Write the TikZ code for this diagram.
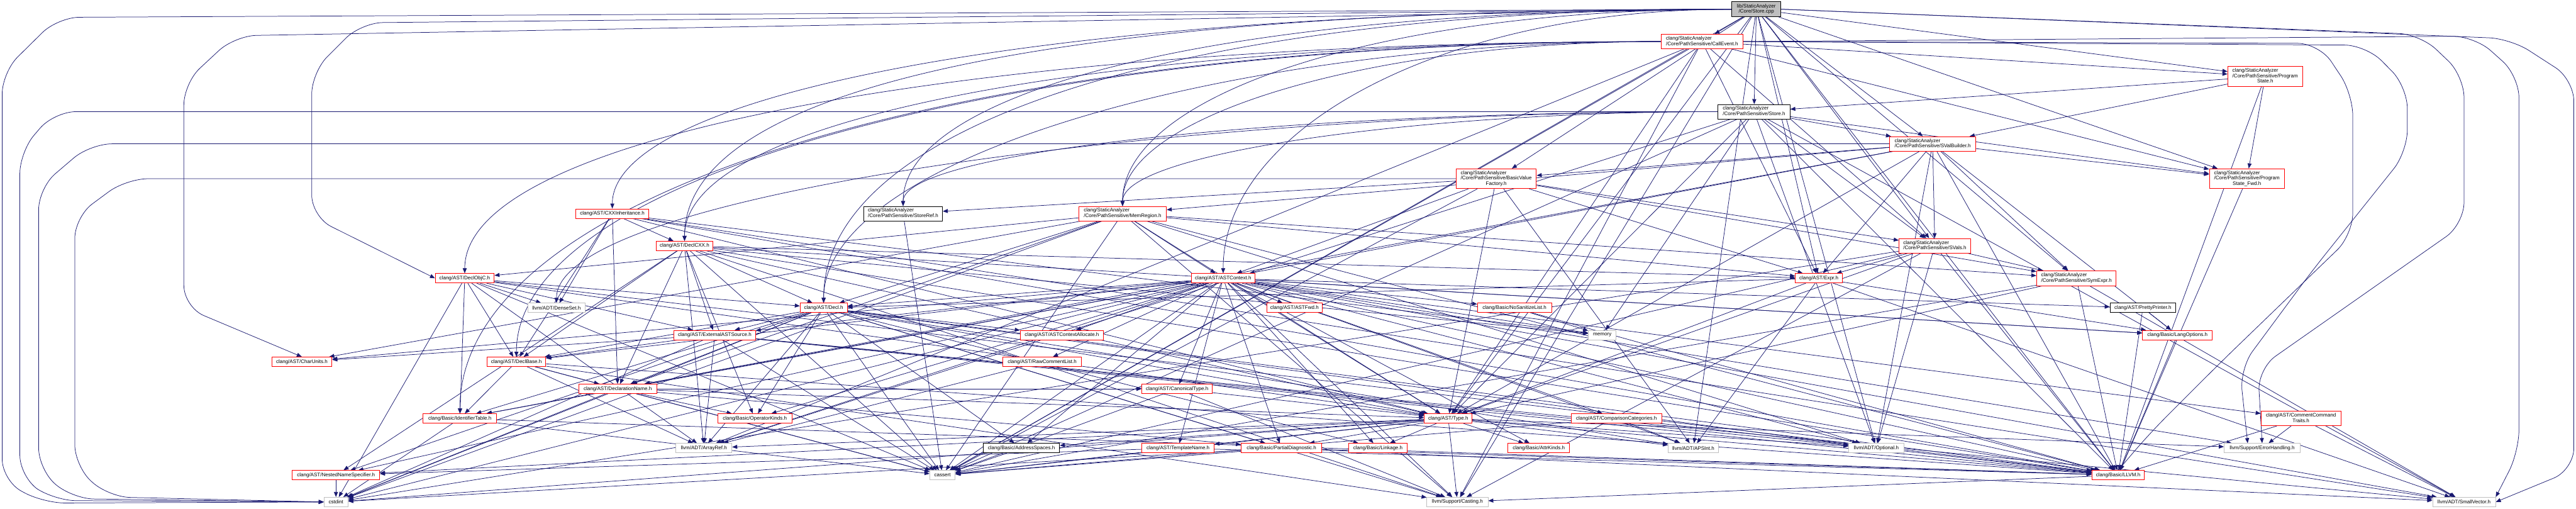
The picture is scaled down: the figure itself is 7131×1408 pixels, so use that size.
\documentclass[tikz,border=0pt]{standalone}
\usepackage{fontspec}
\setmainfont{Liberation Sans}
\usetikzlibrary{arrows.meta}
\pgfdeclarelayer{background}
\pgfsetlayers{background,main}
\definecolor{edgeblue}{RGB}{25,25,112}
\definecolor{trunc}{RGB}{255,0,0}
\definecolor{sysgray}{RGB}{191,191,191}
\newcommand{\hdrtext}[2]{\begin{tabular}{@{}l@{}}#1\\\multicolumn{1}{@{}c@{}}{#2}\end{tabular}}

\begin{document}
\begin{tikzpicture}[x=1pt, y=1pt, font=\fontsize{14}{15}\selectfont,
  file/.style={draw, fill=white, line width=1.5pt, inner sep=2pt, minimum height=26pt},
  hdr/.style={file, draw=trunc},
  sys/.style={file, draw=sysgray},
  full/.style={file, draw=black},
  root/.style={file, draw=black, fill=sysgray},
  inc/.style={draw=edgeblue, line width=1.3pt, -{Triangle[length=14pt, width=11pt]}}]
	\useasboundingbox (0,0) rectangle (7131,-1408);
	% headers of the static analyzer
	\node[root, minimum width=136pt, minimum height=41pt] (cpp) at (4862,-25.5) {\hdrtext{lib/StaticAnalyzer}{/Core/Store.cpp}};
	\node[hdr, minimum width=227pt, minimum height=40pt] (callev) at (4711.5,-115) {\hdrtext{clang/StaticAnalyzer}{/Core/PathSensitive/CallEvent.h}};
	\node[hdr, minimum width=207pt, minimum height=55pt] (pstate) at (6270.5,-211.5) {\hdrtext{clang/StaticAnalyzer\\/Core/PathSensitive/Program}{State.h}};
	\node[full, minimum width=199pt, minimum height=40pt] (storeh) at (4855.5,-309) {\hdrtext{clang/StaticAnalyzer}{/Core/PathSensitive/Store.h}};
	\node[hdr, minimum width=238pt, minimum height=40pt] (svb) at (5350,-398) {\hdrtext{clang/StaticAnalyzer}{/Core/PathSensitive/SValBuilder.h}};
	\node[hdr, minimum width=222pt, minimum height=55pt] (bvf) at (4142,-494.5) {\hdrtext{clang/StaticAnalyzer\\/Core/PathSensitive/BasicValue}{Factory.h}};
	\node[hdr, minimum width=208pt, minimum height=55pt] (psfwd) at (6220,-494.5) {\hdrtext{clang/StaticAnalyzer\\/Core/PathSensitive/Program}{State\_Fwd.h}};
	\node[full, minimum width=218pt, minimum height=40pt] (sref) at (2500,-591) {\hdrtext{clang/StaticAnalyzer}{/Core/PathSensitive/StoreRef.h}};
	\node[hdr, minimum width=243pt, minimum height=40pt] (memreg) at (3107.5,-591) {\hdrtext{clang/StaticAnalyzer}{/Core/PathSensitive/MemRegion.h}};
	\node[hdr, minimum width=198pt, minimum height=40pt] (svals) at (5356,-680) {\hdrtext{clang/StaticAnalyzer}{/Core/PathSensitive/SVals.h}};
	\node[hdr, minimum width=220pt, minimum height=41pt] (symexpr) at (5748,-770) {\hdrtext{clang/StaticAnalyzer}{/Core/PathSensitive/SymExpr.h}};
	% AST and Basic headers
	\node[hdr, minimum width=202pt] (cxxinh) at (1695,-591) {clang/AST/CXXInheritance.h};
	\node[hdr, minimum width=158pt] (declcxx) at (1895,-680.5) {clang/AST/DeclCXX.h};
	\node[hdr, minimum width=163pt] (declobjc) at (1286.5,-770) {clang/AST/DeclObjC.h};
	\node[hdr, minimum width=176pt] (astctx) at (3386,-770) {clang/AST/ASTContext.h};
	\node[hdr, minimum width=130pt] (expr) at (5035,-770) {clang/AST/Expr.h};
	\node[sys, minimum width=159pt] (denseset) at (1540.5,-852) {llvm/ADT/DenseSet.h};
	\node[hdr, minimum width=130pt] (decl) at (2280,-852) {clang/AST/Decl.h};
	\node[hdr, minimum width=153pt] (astfwd) at (3583.5,-852) {clang/AST/ASTFwd.h};
	\node[hdr, minimum width=205pt] (nosan) at (4192.5,-852) {clang/Basic/NoSanitizeList.h};
	\node[full, minimum width=182pt] (pretty) at (5932,-852) {clang/AST/PrettyPrinter.h};
	\node[hdr, minimum width=225pt] (extsrc) at (1978.5,-927) {clang/AST/ExternalASTSource.h};
	\node[hdr, minimum width=231pt] (ctxalloc) at (2939.5,-927) {clang/AST/ASTContextAllocate.h};
	\node[sys, minimum width=77pt] (memory) at (4435.5,-927) {memory};
	\node[hdr, minimum width=193pt] (langopt) at (6027.5,-927) {clang/Basic/LangOptions.h};
	\node[hdr, minimum width=167pt] (charunits) at (835.5,-1001) {clang/AST/CharUnits.h};
	\node[hdr, minimum width=163pt] (declbase) at (1429.5,-1001) {clang/AST/DeclBase.h};
	\node[hdr, minimum width=218pt] (rawcmt) at (2885,-1001) {clang/AST/RawCommentList.h};
	\node[hdr, minimum width=216pt] (dname) at (1710,-1076) {clang/AST/DeclarationName.h};
	\node[hdr, minimum width=195pt] (canon) at (3258.5,-1076) {clang/AST/CanonicalType.h};
	\node[hdr, minimum width=204pt] (idtab) at (1273,-1158) {clang/Basic/IdentifierTable.h};
	\node[hdr, minimum width=205pt] (opkinds) at (2089.5,-1158) {clang/Basic/OperatorKinds.h};
	\node[hdr, minimum width=132pt] (typeh) at (4009,-1158) {clang/AST/Type.h};
	\node[hdr, minimum width=251pt] (cmpcat) at (4474.5,-1158) {clang/AST/ComparisonCategories.h};
	\node[hdr, minimum width=221pt, minimum height=40pt] (cmttraits) at (6369.5,-1158) {\hdrtext{clang/AST/CommentCommand}{Traits.h}};
	\node[sys, minimum width=155pt] (arrayref) at (1948.5,-1240) {llvm/ADT/ArrayRef.h};
	\node[full, minimum width=211pt] (addrsp) at (2827.5,-1240) {clang/Basic/AddressSpaces.h};
	\node[hdr, minimum width=200pt] (tname) at (3261,-1240) {clang/AST/TemplateName.h};
	\node[hdr, minimum width=223pt] (pdiag) at (3547.5,-1240) {clang/Basic/PartialDiagnostic.h};
	\node[hdr, minimum width=163pt] (linkage) at (3814.5,-1240) {clang/Basic/Linkage.h};
	\node[hdr, minimum width=171pt] (attrk) at (4259.5,-1240) {clang/Basic/AttrKinds.h};
	\node[sys, minimum width=139pt] (apsint) at (4687.5,-1240) {llvm/ADT/APSInt.h};
	\node[sys, minimum width=152pt] (optional) at (5194,-1240) {llvm/ADT/Optional.h};
	\node[sys, minimum width=210pt] (errh) at (6262,-1240) {llvm/Support/ErrorHandling.h};
	\node[hdr, minimum width=242pt] (nns) at (930,-1315) {clang/AST/NestedNameSpecifier.h};
	\node[sys, minimum width=70pt] (cassert) at (2609,-1315) {cassert};
	\node[hdr, minimum width=145pt] (llvm) at (5863.5,-1315) {clang/Basic/LLVM.h};
	\node[sys, minimum width=66pt] (cstdint) at (930,-1389) {cstdint};
	\node[sys, minimum width=169pt] (casting) at (4034.5,-1389) {llvm/Support/Casting.h};
	\node[sys, minimum width=174pt] (smallvec) at (6821,-1389) {llvm/ADT/SmallVector.h};

	\begin{pgfonlayer}{background}
	% Store.cpp
	\draw[inc] (cpp) -- (storeh);
	\draw[inc] (cpp.west) .. controls ([xshift=-800pt]cpp.west) and ([yshift=400pt]astctx.north) .. (astctx.north);
	\draw[inc] (cpp.west) .. controls ([xshift=-2000pt]cpp.west) and ([yshift=300pt]cxxinh.north) .. (cxxinh.north);
	\draw[inc, rounded corners=60pt] (cpp.west) -- (650,-99) -- (509,-230) -- (509,-850) -- (charunits.north);
	\draw[inc] (cpp.west) .. controls ([xshift=-1500pt]cpp.west) and ([yshift=500pt]decl.north) .. (decl.north);
	\draw[inc] (cpp.west) .. controls ([xshift=-2000pt]cpp.west) and ([yshift=400pt]declcxx.north) .. (declcxx.north);
	\draw[inc, rounded corners=60pt] (cpp.west) -- (1000,-63) -- (863,-200) -- (863,-600) -- (declobjc.west);
	\draw[inc] (cpp) -- (expr);
	\draw[inc] (cpp) -- (typeh);
	\draw[inc] (cpp) -- (llvm);
	\draw[inc] (cpp) -- (bvf);
	\draw[inc] (cpp) -- (callev);
	\draw[inc] (cpp.west) .. controls ([xshift=-1000pt]cpp.west) and ([yshift=300pt]memreg.north) .. (memreg.north);
	\draw[inc] (cpp) -- (pstate);
	\draw[inc] (cpp) -- (psfwd);
	\draw[inc] (cpp) -- (svb);
	\draw[inc] (cpp) -- (svals);
	\draw[inc] (cpp.west) .. controls ([xshift=-1500pt]cpp.west) and ([yshift=300pt]sref.north) .. (sref.north);
	\draw[inc] (cpp) -- (symexpr);
	\draw[inc] (cpp) -- (apsint);
	\draw[inc] (cpp) -- (optional);
	\draw[inc, rounded corners=60pt] (cpp.east) -- (6950,-107) -- (7125,-220) -- (7125,-1300) -- (smallvec.east);
	\draw[inc] (cpp) -- (casting);
	\draw[inc, rounded corners=60pt] (cpp.east) -- (6700,-95) -- (6821,-210) -- (6821,-620) -- (6250,-1020) -- (errh.north);
	\draw[inc] (cpp) -- (cassert);
	\draw[inc, rounded corners=60pt] (cpp.west) -- (160,-48) -- (6,-200) -- (6,-1330) -- (120,-1392) -- (cstdint.west);
	% CallEvent.h
	\draw[inc] (callev.west) .. controls ([xshift=-1200pt]callev.west) and ([yshift=400pt]decl.north) .. (decl.north);
	\draw[inc] (callev.west) .. controls ([xshift=-1800pt]callev.west) and ([yshift=500pt]declbase.north) .. (declbase.north);
	\draw[inc] (callev.west) .. controls ([xshift=-1500pt]callev.west) and ([yshift=350pt]declcxx.north) .. (declcxx.north);
	\draw[inc] (callev.west) .. controls ([xshift=-1800pt]callev.west) and ([yshift=400pt]declobjc.north) .. (declobjc.north);
	\draw[inc] (callev) -- (expr);
	\draw[inc] (callev) -- (typeh);
	\draw[inc] (callev.west) .. controls ([xshift=-2000pt]callev.west) and ([yshift=600pt]idtab.north) .. (idtab.north);
	\draw[inc, rounded corners=60pt] (callev.east) -- (6420,-120) -- (6513,-260) -- (6513,-650) -- (6150,-1000) -- (5950,-1200) -- (llvm.north);
	\draw[inc] (callev.west) .. controls ([xshift=-800pt]callev.west) and ([yshift=250pt]memreg.north) .. (memreg.north);
	\draw[inc] (callev) -- (pstate);
	\draw[inc] (callev) -- (psfwd);
	\draw[inc] (callev) -- (svals);
	\draw[inc] (callev) -- (arrayref);
	\draw[inc, rounded corners=60pt] (callev.east) -- (6850,-100) -- (6973,-210) -- (6973,-1250) -- (smallvec.north east);
	\draw[inc] (callev) -- (casting);
	\draw[inc, rounded corners=60pt] (callev.east) -- (6550,-125) -- (6664,-240) -- (6664,-420) -- (6400,-750) -- (6200,-1020) -- ([xshift=-40pt]errh.north);
	\draw[inc] (callev) -- (cassert);
	% ProgramState.h
	\draw[inc] (pstate) -- (psfwd);
	\draw[inc] (pstate) -- (svb);
	\draw[inc] (pstate) -- (storeh);
	\draw[inc] (pstate) -- (llvm);
	% Store.h
	\draw[inc] (storeh.west) .. controls ([xshift=-800pt]storeh.west) and ([yshift=150pt]memreg.north) .. (memreg.north);
	\draw[inc] (storeh) -- (psfwd);
	\draw[inc] (storeh) -- (svb);
	\draw[inc] (storeh.west) .. controls ([xshift=-1200pt]storeh.west) and ([yshift=150pt]sref.north) .. (sref.north);
	\draw[inc] (storeh) -- (svals);
	\draw[inc] (storeh) -- (typeh);
	\draw[inc] (storeh) -- (llvm);
	\draw[inc] (storeh) -- (arrayref);
	\draw[inc] (storeh.west) .. controls ([xshift=-1500pt]storeh.west) and ([yshift=300pt]denseset.north) .. (denseset.north);
	\draw[inc] (storeh) -- (optional);
	\draw[inc] (storeh) -- (smallvec);
	\draw[inc] (storeh) -- (cassert);
	\draw[inc, rounded corners=60pt] (storeh.west) -- (150,-309) -- (55,-420) -- (55,-1320) -- (150,-1385) -- (cstdint.west);
	\draw[inc] (storeh) -- (memory);
	% BasicValueFactory.h
	\draw[inc] (bvf) -- (astctx);
	\draw[inc] (bvf) -- (expr);
	\draw[inc] (bvf) -- (typeh);
	\draw[inc] (bvf) -- (svals);
	\draw[inc] (bvf) -- (sref);
	\draw[inc] (bvf) -- (symexpr);
	\draw[inc] (bvf) -- (apsint);
	\draw[inc] (bvf) -- (cassert);
	\draw[inc, rounded corners=60pt] (bvf.west) -- (350,-494.5) -- (207,-600) -- (207,-1290) -- (300,-1375) -- (cstdint.west);
	% SValBuilder.h
	\draw[inc] (svb) -- (astctx);
	\draw[inc] (svb) -- (dname);
	\draw[inc] (svb) -- (expr);
	\draw[inc] (svb) -- (typeh);
	\draw[inc] (svb) -- (llvm);
	\draw[inc] (svb) -- (langopt);
	\draw[inc] (svb) -- (bvf);
	\draw[inc] (svb) -- (memreg);
	\draw[inc] (svb) -- (psfwd);
	\draw[inc] (svb) -- (svals);
	\draw[inc] (svb) -- (symexpr);
	\draw[inc] (svb) -- (optional);
	\draw[inc, rounded corners=60pt] (svb.west) -- (250,-398) -- (107,-520) -- (107,-1300) -- (200,-1380) -- (cstdint.west);
	% small ones
	\draw[inc] (psfwd) -- (llvm);
	\draw[inc] (sref) -- (cassert);
	% MemRegion.h
	\draw[inc] (memreg) -- (astctx);
	\draw[inc] (memreg) -- (charunits);
	\draw[inc] (memreg) -- (decl);
	\draw[inc] (memreg) -- (declobjc);
	\draw[inc] (memreg) -- (dname);
	\draw[inc] (memreg) -- (expr);
	\draw[inc] (memreg) -- (typeh);
	\draw[inc] (memreg) -- (llvm);
	\draw[inc] (memreg) -- (symexpr);
	\draw[inc] (memreg) -- (optional);
	\draw[inc] (memreg) -- (casting);
	\draw[inc] (memreg) -- (cassert);
	\draw[inc] (memreg) -- (cstdint);
	% SVals.h
	\draw[inc] (svals) -- (expr);
	\draw[inc] (svals) -- (typeh);
	\draw[inc] (svals) -- (llvm);
	\draw[inc] (svals) -- (symexpr);
	\draw[inc] (svals) -- (optional);
	\draw[inc] (svals) -- (casting);
	\draw[inc] (svals) -- (cassert);
	\draw[inc] (svals) -- (cstdint);
	% SymExpr.h
	\draw[inc] (symexpr) -- (typeh);
	\draw[inc] (symexpr) -- (llvm);
	\draw[inc] (symexpr) -- (smallvec);
	\draw[inc] (symexpr) -- (cassert);
	% CXXInheritance.h
	\draw[inc] (cxxinh) -- (declbase);
	\draw[inc] (cxxinh) -- (declcxx);
	\draw[inc] (cxxinh) -- (dname);
	\draw[inc] (cxxinh) -- (typeh);
	\draw[inc] (cxxinh) -- (llvm);
	\draw[inc] (cxxinh) -- (denseset);
	\draw[inc] (cxxinh) -- (smallvec);
	\draw[inc] (cxxinh) -- (memory);
	% DeclCXX.h
	\draw[inc] (declcxx) -- (decl);
	\draw[inc] (declcxx) -- (declbase);
	\draw[inc] (declcxx) -- (dname);
	\draw[inc] (declcxx) -- (expr);
	\draw[inc] (declcxx) -- (extsrc);
	\draw[inc] (declcxx) -- (nns);
	\draw[inc] (declcxx) -- (typeh);
	\draw[inc] (declcxx) -- (llvm);
	\draw[inc] (declcxx) -- (langopt);
	\draw[inc] (declcxx) -- (opkinds);
	\draw[inc] (declcxx) -- (arrayref);
	\draw[inc] (declcxx) -- (casting);
	\draw[inc] (declcxx) -- (cassert);
	\draw[inc] (declcxx) -- (memory);
	% DeclObjC.h
	\draw[inc] (declobjc) -- (decl);
	\draw[inc] (declobjc) -- (declbase);
	\draw[inc] (declobjc) -- (extsrc);
	\draw[inc] (declobjc) -- (typeh);
	\draw[inc] (declobjc) -- (idtab);
	\draw[inc] (declobjc) -- (llvm);
	\draw[inc] (declobjc) -- (arrayref);
	\draw[inc] (declobjc) -- (denseset);
	\draw[inc] (declobjc) -- (cassert);
	\draw[inc] (declobjc) -- (cstdint);
	% Expr.h
	\draw[inc] (expr) -- (decl);
	\draw[inc] (expr) -- (typeh);
	\draw[inc] (expr) -- (langopt);
	\draw[inc] (expr) -- (apsint);
	\draw[inc] (expr) -- (smallvec);
	% ASTContext.h
	\draw[inc] (astctx) -- (ctxalloc);
	\draw[inc] (astctx) -- (astfwd);
	\draw[inc] (astctx) -- (canon);
	\draw[inc] (astctx) -- (charunits);
	\draw[inc] (astctx) -- (cmttraits);
	\draw[inc] (astctx) -- (cmpcat);
	\draw[inc] (astctx) -- (decl);
	\draw[inc] (astctx) -- (declbase);
	\draw[inc] (astctx) -- (dname);
	\draw[inc] (astctx) -- (extsrc);
	\draw[inc] (astctx) -- (nns);
	\draw[inc] (astctx) -- (pretty);
	\draw[inc] (astctx) -- (rawcmt);
	\draw[inc] (astctx) -- (tname);
	\draw[inc] (astctx) -- (typeh);
	\draw[inc] (astctx) -- (addrsp);
	\draw[inc] (astctx) -- (attrk);
	\draw[inc] (astctx) -- (idtab);
	\draw[inc] (astctx) -- (llvm);
	\draw[inc] (astctx) -- (langopt);
	\draw[inc] (astctx) -- (linkage);
	\draw[inc] (astctx) -- (nosan);
	\draw[inc] (astctx) -- (opkinds);
	\draw[inc] (astctx) -- (pdiag);
	\draw[inc] (astctx) -- (apsint);
	\draw[inc] (astctx) -- (arrayref);
	\draw[inc] (astctx) -- (optional);
	\draw[inc] (astctx) -- (smallvec);
	\draw[inc] (astctx) -- (casting);
	\draw[inc] (astctx) -- (errh);
	\draw[inc] (astctx) -- (cassert);
	\draw[inc] (astctx) -- (cstdint);
	\draw[inc] (astctx) -- (memory);
	% Decl.h
	\draw[inc] (decl) -- (ctxalloc);
	\draw[inc] (decl) -- (declbase);
	\draw[inc] (decl) -- (dname);
	\draw[inc] (decl) -- (extsrc);
	\draw[inc] (decl) -- (nns);
	\draw[inc] (decl) -- (typeh);
	\draw[inc] (decl) -- (addrsp);
	\draw[inc] (decl) -- (idtab);
	\draw[inc] (decl) -- (llvm);
	\draw[inc] (decl) -- (linkage);
	\draw[inc] (decl) -- (opkinds);
	\draw[inc] (decl) -- (pdiag);
	\draw[inc] (decl) -- (apsint);
	\draw[inc] (decl) -- (arrayref);
	\draw[inc] (decl) -- (optional);
	\draw[inc] (decl) -- (casting);
	\draw[inc] (decl) -- (cassert);
	\draw[inc] (decl) -- (cstdint);
	% DeclBase.h
	\draw[inc] (declbase) -- (dname);
	\draw[inc] (declbase) -- (idtab);
	\draw[inc] (declbase) -- (llvm);
	\draw[inc] (declbase) -- (arrayref);
	\draw[inc] (declbase) -- (casting);
	\draw[inc] (declbase) -- (cassert);
	% ExternalASTSource.h
	\draw[inc] (extsrc) -- (charunits);
	\draw[inc] (extsrc) -- (declbase);
	\draw[inc] (extsrc) -- (llvm);
	\draw[inc] (extsrc) -- (arrayref);
	\draw[inc] (extsrc) -- (optional);
	\draw[inc] (extsrc) -- (smallvec);
	\draw[inc] (extsrc) -- (cassert);
	\draw[inc] (extsrc) -- (cstdint);
	% DeclarationName.h
	\draw[inc] (dname) -- (canon);
	\draw[inc] (dname) -- (typeh);
	\draw[inc] (dname) -- (idtab);
	\draw[inc] (dname) -- (opkinds);
	\draw[inc] (dname) -- (pdiag);
	\draw[inc] (dname) -- (cassert);
	\draw[inc] (dname) -- (cstdint);
	% CanonicalType.h, IdentifierTable.h
	\draw[inc] (canon) -- (typeh);
	\draw[inc] (canon) -- (casting);
	\draw[inc] (canon) -- (cassert);
	\draw[inc] (idtab) -- (llvm);
	\draw[inc] (idtab) -- (cassert);
	\draw[inc] (idtab) -- (cstdint);
	% Type.h
	\draw[inc] (typeh) -- (nns);
	\draw[inc] (typeh) -- (tname);
	\draw[inc] (typeh) -- (addrsp);
	\draw[inc] (typeh) -- (attrk);
	\draw[inc] (typeh) -- (llvm);
	\draw[inc] (typeh) -- (linkage);
	\draw[inc] (typeh) -- (pdiag);
	\draw[inc] (typeh) -- (apsint);
	\draw[inc] (typeh) -- (arrayref);
	\draw[inc] (typeh) -- (optional);
	\draw[inc] (typeh) -- (casting);
	\draw[inc] (typeh) -- (errh);
	\draw[inc] (typeh) -- (cassert);
	\draw[inc] (typeh) -- (cstdint);
	% the rest
	\draw[inc] (cmpcat) -- (llvm);
	\draw[inc] (cmpcat) -- (apsint);
	\draw[inc] (cmpcat) -- (cassert);
	\draw[inc] (cmttraits) -- (llvm);
	\draw[inc] (cmttraits) -- (smallvec);
	\draw[inc] (cmttraits) -- (errh);
	\draw[inc] (tname) -- (nns);
	\draw[inc] (tname) -- (llvm);
	\draw[inc] (tname) -- (cassert);
	\draw[inc] (pdiag) -- (llvm);
	\draw[inc] (pdiag) -- (smallvec);
	\draw[inc] (pdiag) -- (cassert);
	\draw[inc] (pdiag) -- (cstdint);
	\draw[inc] (addrsp) -- (cassert);
	\draw[inc] (nns) -- (cstdint);
	\draw[inc] (llvm) -- (casting);
	\draw[inc] (pretty) -- (langopt);
	\draw[inc] (pretty) -- (llvm);
	\draw[inc] (langopt) -- (llvm);
	\draw[inc] (nosan) -- (llvm);
	\draw[inc] (nosan) -- (memory);
	\draw[inc] (rawcmt) -- (arrayref);
	\end{pgfonlayer}
\end{tikzpicture}
\end{document}
